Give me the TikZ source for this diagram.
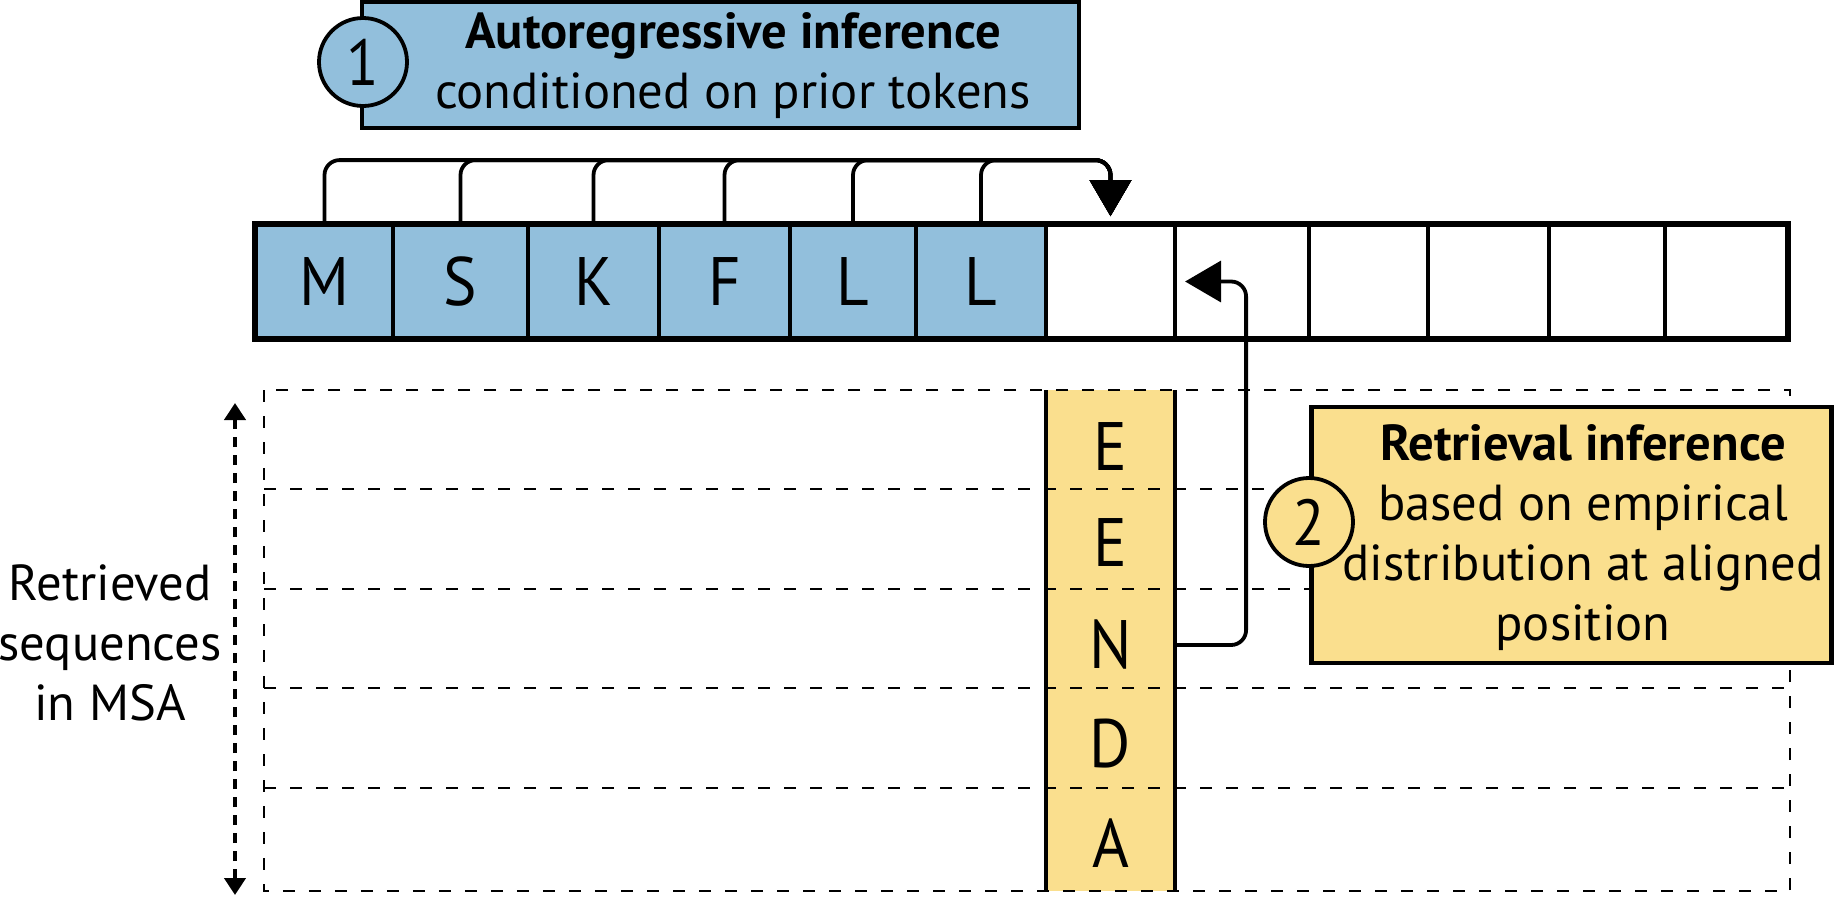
\documentclass[tikz,border=0pt]{standalone}
\usepackage{fontspec}
\setmainfont{PT Sans}
\newfontfamily\tokfont{PT Sans}[FakeStretch=0.92]
\usetikzlibrary{arrows.meta,calc}

\definecolor{tokblue}{HTML}{92BFDC}
\definecolor{msayellow}{HTML}{FADF8E}

\tikzset{
  cell/.style={draw,line width=0.38mm,minimum height=1.13cm,inner sep=0pt,font=\tokfont\fontsize{19.5}{22}\selectfont},
  conn/.style={line width=0.38mm,rounded corners=1.5mm,-{Triangle[length=3.6mm,width=4.1mm]}},
  msagrid/.style={line width=0.22mm,dash pattern=on 1.2mm off 1.4mm},
  infobox/.style={draw,line width=0.42mm,inner sep=0pt},
  numcircle/.style={circle,draw,line width=0.38mm,minimum size=0.88cm,inner sep=0pt,font=\tokfont\fontsize{18.5}{21}\selectfont},
  boxtext/.style={align=center,font=\fontsize{14.4}{17.1}\selectfont,inner sep=0pt}
}

\begin{document}
\begin{tikzpicture}
\useasboundingbox (0,0) rectangle (18.35,-8.97);

% query sequence
\foreach \l/\r/\tok [count=\i] in {2.56/3.93/M,3.93/5.28/S,5.28/6.59/K,6.59/7.90/F,7.90/9.16/L,9.16/10.46/L}
  \node[cell,fill=tokblue,minimum width={(\r-\l)*1cm}] (s\i) at ({(\l+\r)/2},-2.815) {\tok};
\foreach \l/\r [count=\i from 7] in {10.46/11.75,11.75/13.09,13.09/14.28,14.28/15.49,15.49/16.65,16.65/17.87}
  \node[cell,minimum width={(\r-\l)*1cm}] (s\i) at ({(\l+\r)/2},-2.815) {};
\draw[line width=0.48mm] (s1.north west) rectangle (s12.south east);

% MSA rows and aligned column
\fill[msayellow] (10.46,-3.90) rectangle (11.75,-8.91);
\draw[msagrid] (2.64,-3.90) rectangle (17.90,-8.91);
\foreach \y in {4.89,5.89,6.88,7.88}
  \draw[msagrid] (2.64,-\y) -- (17.90,-\y);
\draw[line width=0.38mm] (10.46,-3.90) -- (10.46,-8.91) (11.75,-3.90) -- (11.75,-8.91);
\foreach \tok/\y [count=\i] in {E/4.46,E/5.43,N/6.45,D/7.44,A/8.43}
  \node[font=\tokfont\fontsize{19.5}{22}\selectfont,inner sep=0pt] (a\i) at (11.105,-\y) {\tok};

% left label
\coordinate (up) at (2.35,-4.03);
\coordinate (down) at (2.35,-8.95);
\draw[line width=0.45mm,dash pattern=on 1mm off 0.8mm,{Triangle[length=1.7mm,width=2.1mm]}-{Triangle[length=1.7mm,width=2.1mm]}] (down) -- (up);
\node[boxtext] (msa) at (1.10,-6.43) {Retrieved\\sequences\\in MSA};

% step 1
\node[infobox,fill=tokblue,minimum width=7.17cm,minimum height=1.26cm] (box1) at (7.205,-0.65) {};
\node[boxtext] (txt1) at (7.33,-0.66) {\textbf{Autoregressive inference}\\conditioned on prior tokens};
\node[numcircle,fill=tokblue] (num1) at (3.63,-0.62) {1};

\coordinate (bus) at ($(s7.north)+(0,0.63)$);
\coordinate (tip7) at ($(s7.north)+(0,0.07)$);
\foreach \i in {1,...,6}
  \draw[conn] (s\i.north) |- (bus) -- (tip7);

% step 2
\node[infobox,fill=msayellow,minimum width=5.2cm,minimum height=2.56cm] (box2) at (15.715,-5.35) {};
\node[boxtext] (txt2) at (15.83,-5.375) {\textbf{Retrieval inference}\\based on empirical\\distribution at aligned\\position};
\node[numcircle,fill=msayellow] (num2) at (13.09,-5.22) {2};

\coordinate (knee) at ($(s8.west)+(0.73,0)$);
\coordinate (tip8) at ($(s8.west)+(0.12,0)$);
\draw[conn] (a3.east -| s7.east) -| (knee) -- (tip8);
\end{tikzpicture}
\end{document}
